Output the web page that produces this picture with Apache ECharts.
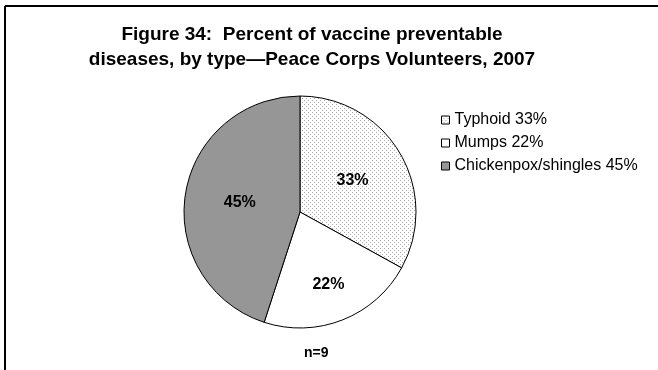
<!DOCTYPE html>
<html>
<head>
<meta charset="utf-8">
<script src="https://cdn.jsdelivr.net/npm/echarts@6/dist/echarts.min.js"></script>
<style>
  html, body { margin: 0; padding: 0; background: #fff; }
  #chart { width: 658px; height: 370px; }
</style>
</head>
<body>
<div id="chart"></div>
<script>
const categories = ['Typhoid', 'Mumps', 'Chickenpox/shingles']
const percents = [33, 22, 45]
const sampleSize = 9

// dotted fill for the typhoid slice
function dotPattern() {
  const c = document.createElement('canvas')
  c.width = 4
  c.height = 4
  const ctx = c.getContext('2d')
  ctx.fillStyle = '#fff'
  ctx.fillRect(0, 0, 4, 4)
  ctx.fillStyle = '#a8a8a8'
  ctx.fillRect(0, 0, 1, 1)
  ctx.fillRect(2, 2, 1, 1)
  return c
}

const fills = [
  { image: dotPattern(), repeat: 'repeat' },
  '#ffffff',
  '#969696'
]
// the mumps label sits a little further out in the original
const labelNudge = { Mumps: [6, 16] }

const font = '"Liberation Sans", Arial, sans-serif'
const chart = echarts.init(document.getElementById('chart'))

chart.setOption({
  animation: false,
  title: {
    text: 'Figure 34:  Percent of vaccine preventable\ndiseases, by type\u2014Peace Corps Volunteers, 2007',
    left: 307,
    top: 17,
    textAlign: 'center',
    textStyle: {
      fontFamily: font,
      fontSize: 19,
      fontWeight: 'bold',
      lineHeight: 25,
      color: '#000'
    }
  },
  legend: {
    orient: 'vertical',
    left: 436,
    top: 107,
    itemWidth: 8,
    itemHeight: 8,
    itemGap: 7,
    icon: 'rect',
    data: categories.map((c, i) => c + ' ' + percents[i] + '%'),
    itemStyle: { borderColor: '#000', borderWidth: 1 },
    textStyle: { fontFamily: font, fontSize: 16, color: '#000', lineHeight: 16 }
  },
  graphic: [
    { type: 'line', shape: { x1: 5, y1: 6, x2: 658, y2: 6 }, style: { stroke: '#000', lineWidth: 2 } },
    { type: 'line', shape: { x1: 5, y1: 6, x2: 5, y2: 370 }, style: { stroke: '#000', lineWidth: 2 } },
    {
      type: 'text', left: 304, top: 346,
      style: { text: 'n=' + sampleSize, font: 'bold 14px ' + font, fill: '#000', textAlign: 'center' }
    }
  ],
  series: [{
    type: 'pie',
    center: [300, 212],
    radius: 116,
    startAngle: 90,
    clockwise: true,
    silent: true,
    labelLine: { show: false },
    label: {
      position: 'inside',
      formatter: '{c}%',
      fontFamily: font,
      fontSize: 16,
      fontWeight: 'bold',
      color: '#000'
    },
    itemStyle: { borderColor: '#000', borderWidth: 1 },
    data: categories.map((c, i) => ({
      name: c + ' ' + percents[i] + '%',
      value: percents[i],
      itemStyle: { color: fills[i] },
      label: labelNudge[c] ? { offset: labelNudge[c] } : undefined
    }))
  }]
})
</script>
</body>
</html>
